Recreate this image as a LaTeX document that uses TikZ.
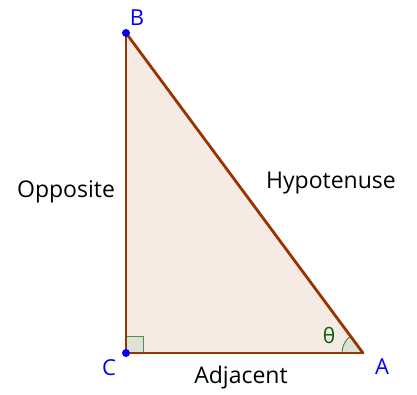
\documentclass[tikz,border=0pt]{standalone}
\usepackage{fontspec}
\setmainfont{Open Sans}
\definecolor{edgebrown}{RGB}{153, 51, 0}
\definecolor{trifill}{RGB}{245, 234, 228}
\definecolor{ptblue}{RGB}{0, 0, 255}
\definecolor{anggreen}{RGB}{0, 100, 0}
\definecolor{angfill}{RGB}{222, 226, 212}
\usetikzlibrary{positioning, calc}

\begin{document}
\begin{tikzpicture}[x=1pt, y=-1pt,
    side/.style={draw=edgebrown, line width=2.8pt, line cap=round},
    vertex/.style={circle, fill=ptblue, inner sep=0pt, minimum size=8pt},
    ptlabel/.style={text=ptblue, font=\fontsize{22}{26}\selectfont, anchor=base},
    sidelabel/.style={text=black, font=\fontsize{23}{28}\selectfont, anchor=base}]
  \useasboundingbox (0,0) rectangle (417,394);
  % corners of the triangle
  \coordinate (B) at (126,33);
  \coordinate (C) at (126,353);
  \coordinate (A) at (363,353);
  \fill[trifill] (A) -- (B) -- (C) -- cycle;
  % right angle and angle marks
  \draw[draw=anggreen!70, fill=angfill, line width=0.8pt] (C) rectangle ++(17,-17);
  \draw[draw=anggreen!80, fill=angfill, line width=0.8pt]
    (A) -- ++(-21,0) arc[start angle=180, end angle=233.5, radius=21] -- cycle;
  \draw[side] (C) -- (A);
  \draw[side] (A) -- (B);
  \draw[side] (B) -- (C);
  \node[vertex] (pB) at (B) {};
  \node[vertex] (pC) at (C) {};
  % labels
  \node[ptlabel] (lB) at (137,25) {B};
  \node[ptlabel] (lC) at (109,375) {C};
  \node[ptlabel] (lA) at (382,374) {A};
  \node[text=anggreen, font=\fontsize{21}{25}\selectfont, anchor=base] (th) at (329,343) {θ};
  \node[sidelabel] (opp) at (66,197) {Opposite};
  \node[sidelabel] (hyp) at (331,188) {Hypotenuse};
  \node[sidelabel] (adj) at (241,383) {Adjacent};
\end{tikzpicture}
\end{document}
